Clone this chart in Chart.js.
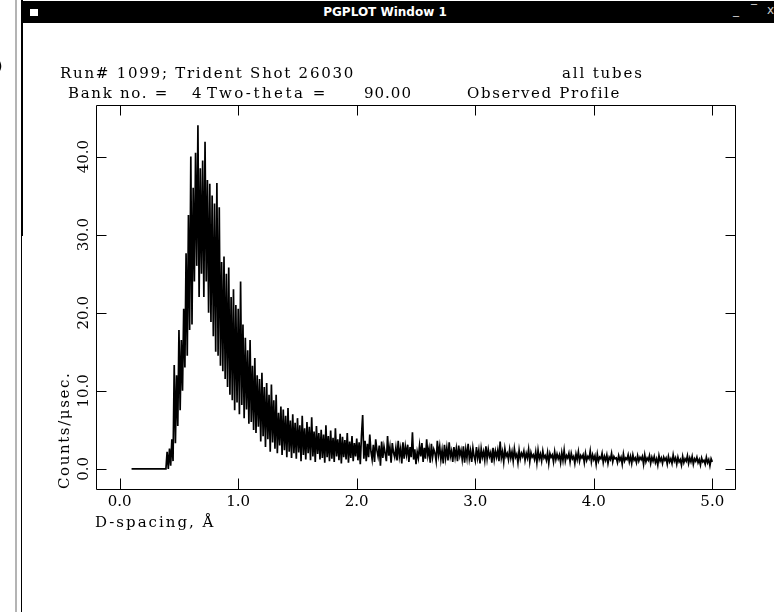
<!DOCTYPE html>
<html>
<head>
<meta charset="utf-8">
<title>PGPLOT Window 1</title>
<script src="https://cdn.jsdelivr.net/npm/chart.js@4.4.1/dist/chart.umd.min.js"></script>
<style>
  html, body { margin: 0; padding: 0; background: #fff; }
  #win { position: relative; width: 774px; height: 612px; overflow: hidden; background: #fff; }
  #myChart { position: absolute; left: 0; top: 0; }
  .edge-gray { position: absolute; left: 15px; top: 0; width: 2px; height: 612px; background: #b4b4b4; }
  .edge-black { position: absolute; left: 21px; top: 0; width: 2px; height: 236px; background: #000; }
  .edge-thin { position: absolute; left: 21px; top: 236px; width: 1px; height: 376px; background: #000; }
  .bar { position: absolute; left: 21px; top: 1px; width: 753px; height: 22px; background: #000; }
  .icon { position: absolute; left: 9px; top: 8px; width: 8px; height: 7px; background: #fff; }
  .bar-title { position: absolute; left: 0; width: 728px; top: 4px; text-align: center; color: #fff;
    font: bold 12px "DejaVu Sans", sans-serif; }
  .bar-btn { position: absolute; top: 2px; color: #ccc; font: 12px "DejaVu Sans", sans-serif; }
  .stray { position: absolute; left: -3px; top: 58px; font: 14px "DejaVu Sans", sans-serif; color: #000; }
  .txt { position: absolute; font: 15px "DejaVu Serif", serif; line-height: 15px; white-space: pre; color: #000; }
  .ytitle { transform-origin: 0 0; transform: rotate(-90deg); }
</style>
</head>
<body>
<div id="win">
  <canvas id="myChart" width="774" height="612"></canvas>
  <div class="stray">)</div>
  <div class="edge-gray"></div>
  <div class="edge-black"></div>
  <div class="edge-thin"></div>
  <div class="bar">
    <div class="icon"></div>
    <div class="bar-title">PGPLOT Window 1</div>
    <div class="bar-btn" style="left:712px">_</div>
    <div class="bar-btn" style="left:730px">‾</div>
    <div class="bar-btn" style="left:746px">x</div>
  </div>
  <div class="txt" style="left:60px; top:66px; letter-spacing:1.75px">Run# 1099; Trident Shot 26030</div>
  <div class="txt" style="left:562px; top:66px; letter-spacing:1.85px">all tubes</div>
  <div class="txt" style="left:68px; top:86px; letter-spacing:1.7px">Bank no. =</div>
  <div class="txt" style="left:192px; top:86px">4</div>
  <div class="txt" style="left:207px; top:86px; letter-spacing:2.5px">Two-theta =</div>
  <div class="txt" style="left:364px; top:86px; letter-spacing:1px">90.00</div>
  <div class="txt" style="left:467px; top:86px; letter-spacing:1.65px">Observed Profile</div>
  <div class="txt" style="left:95px; top:515px; letter-spacing:2px">D-spacing, Å</div>
  <div class="txt ytitle" style="left:57px; top:489px; letter-spacing:1.6px">Counts/μsec.</div>
</div>
<script>
// D-spacing grid of the observed profile (Angstrom)
const dStart = 0.10;
const dStep = 0.01;

// Counts/usec, one value per 0.01 A starting at 0.10
const counts = [
  0, 0, 0, 0, 0, 0, 0, 0, 0, 0,
  0, 0, 0, 0, 0, 0, 0, 0, 0, 0,
  0, 0, 0, 0, 0, 0, 0, 0, 0, 0,
  2.2, 0.0, 2.6, 0.4, 3.8, 1.0, 13.3, 3.3, 12.0, 5.5,
  17.8, 7.5, 16.5, 10.0, 20.5, 13.0, 27.6, 14.5, 32.5, 17.8,
  40.0, 18.5, 36.0, 24.0, 40.5, 26.0, 44.0, 22.0, 38.5, 25.0,
  39.5, 22.0, 41.9, 24.0, 37.0, 20.0, 36.5, 18.8, 35.0, 17.0,
  34.0, 15.0, 36.6, 14.5, 33.5, 13.2, 26.5, 12.5, 27.2, 11.5,
  25.0, 10.5, 25.8, 9.5, 22.0, 8.8, 23.0, 7.5, 21.0, 8.5,
  20.5, 7.0, 24.0, 8.2, 18.5, 6.5, 16.8, 7.6, 15.2, 5.8,
  16.5, 6.0, 13.2, 5.0, 14.2, 4.6, 12.0, 5.4, 11.5, 3.5,
  12.3, 4.2, 10.5, 2.8, 11.0, 3.8, 9.5, 2.2, 10.8, 3.4,
  8.8, 2.6, 9.5, 2.0, 7.2, 3.0, 8.0, 1.8, 7.6, 2.4,
  6.8, 1.5, 7.8, 2.2, 6.2, 1.4, 7.0, 2.0, 5.9, 1.3,
  6.5, 2.1, 5.6, 1.0, 6.8, 1.8, 5.2, 1.2, 6.0, 2.0,
  5.4, 1.1, 6.6, 1.6, 4.8, 0.9, 5.5, 1.9, 4.6, 1.2,
  5.0, 1.4, 4.4, 0.8, 5.6, 1.5, 4.2, 1.0, 4.9, 1.3,
  4.0, 0.9, 5.2, 1.6, 3.8, 1.1, 4.5, 0.7, 4.1, 1.5,
  3.7, 1.2, 4.6, 0.8, 3.5, 1.4, 4.2, 1.0, 3.3, 1.6,
  3.9, 1.1, 3.4, 0.6, 4.3, 6.9, 1.3, 3.6, 1.0, 3.2,
  1.5, 4.4, 2.2, 1.2, 3.1, 0.9, 3.8, 2.4, 1.6, 3.0,
  0.4, 3.5, 1.4, 2.9, 2.0, 1.0, 4.2, 1.7, 2.8, 0.8,
  3.3, 2.1, 1.5, 2.7, 1.1, 3.6, 1.6, 2.6, 0.7, 3.4,
  1.3, 2.9, 1.8, 3.1, 0.9, 2.8, 1.5, 4.7, 1.2, 2.5,
  0.6, 2.2, 1.4, 3.0, 1.6, 3.3, 0.9, 2.7, 1.3, 3.8,
  1.7, 2.6, 0.8, 3.2, 1.5, 2.5, 2.0, 1.0, 3.6, 1.8,
  2.9, 1.2, 2.4, 0.7, 3.1, 1.4, 2.7, 1.1, 3.4, 1.6,
  2.3, 0.9, 2.8, 1.5, 2.6, 1.0, 3.0, 1.7, 2.4, 1.2,
  2.9, 0.8, 2.5, 1.4, 3.2, 1.3, 2.3, 0.9, 2.7, 1.6,
  1.0, 2.8, 1.4, 2.4, 0.7, 2.6, 1.5, 2.2, 1.1, 2.9,
  1.3, 2.5, 1.6, 2.1, 0.8, 2.7, 1.2, 2.3, 1.5, 2.4,
  1.0, 3.5, 1.4, 2.2, 0.9, 2.6, 1.6, 2.0, 1.2, 2.5,
  1.4, 2.2, 1.0, 2.6, 1.5, 1.9, 0.8, 2.4, 1.3, 2.0,
  1.6, 2.3, 1.1, 2.0, 1.4, 2.5, 0.9, 2.1, 1.5, 1.8,
  1.2, 2.2, 0.8, 2.4, 1.3, 1.9, 1.0, 2.3, 1.4, 1.7,
  1.1, 2.1, 0.7, 2.0, 1.5, 1.8, 0.9, 2.2, 1.2, 1.9,
  1.3, 1.8, 0.8, 2.1, 1.1, 2.4, 1.0, 1.7, 1.4, 2.0,
  0.9, 2.0, 1.3, 1.6, 0.7, 1.9, 1.2, 2.2, 1.0, 1.7,
  1.4, 1.8, 0.8, 2.0, 1.1, 1.6, 1.3, 2.3, 0.9, 1.8,
  1.2, 1.7, 0.6, 1.9, 1.0, 1.5, 1.3, 2.0, 0.8, 1.6,
  1.1, 1.8, 0.7, 1.5, 1.2, 2.0, 0.9, 1.6, 1.3, 1.4,
  0.8, 1.7, 1.1, 1.5, 0.6, 1.9, 1.0, 1.4, 1.2, 1.8,
  0.9, 1.6, 0.7, 1.8, 1.1, 1.4, 0.8, 1.7, 1.0, 1.5,
  1.2, 1.6, 0.6, 1.8, 0.9, 1.4, 1.1, 1.7, 0.7, 1.5,
  1.0, 1.6, 0.8, 1.3, 0.5, 1.7, 1.0, 1.4, 0.7, 1.5,
  1.1, 1.4, 0.6, 1.6, 0.9, 1.3, 0.7, 1.8, 1.0, 1.4,
  0.6, 1.5, 0.9, 1.2, 0.5, 1.6, 0.8, 1.3, 1.0, 1.7,
  0.7, 1.4, 0.9, 1.6, 0.6, 1.3, 1.0, 1.5, 0.8, 1.2,
  0.5, 1.4, 0.9, 1.1, 0.6, 1.5, 0.8, 1.2, 0.4, 1.3,
  0.9
];

// axis limits and tick spacing as in the PGPLOT frame
const xMin = -0.2, xMax = 5.2, xStep = 1;
const yMin = -2.7, yMax = 46.6, yStep = 10;

const points = counts.map((c, i) => ({ x: +(dStart + i * dStep).toFixed(2), y: c }));

// PGPLOT style box: frame plus inward major ticks on all four sides
const pgBox = {
  id: 'pgBox',
  afterDatasetsDraw(chart) {
    const { ctx, chartArea: a, scales } = chart;
    const l = Math.round(a.left) + 0.5, r = Math.round(a.right) - 0.5;
    const t = Math.round(a.top) + 0.5, b = Math.round(a.bottom) - 0.5;
    ctx.save();
    ctx.strokeStyle = '#000';
    ctx.lineWidth = 1;
    ctx.beginPath();
    ctx.rect(l, t, r - l, b - t);
    scales.x.ticks.forEach((tk) => {
      const px = Math.round(scales.x.getPixelForValue(tk.value)) + 0.5;
      ctx.moveTo(px, b); ctx.lineTo(px, b - 11);
      ctx.moveTo(px, t); ctx.lineTo(px, t + 10);
    });
    scales.y.ticks.forEach((tk) => {
      const py = Math.round(scales.y.getPixelForValue(tk.value)) + 0.5;
      ctx.moveTo(l, py); ctx.lineTo(l + 10, py);
      ctx.moveTo(r, py); ctx.lineTo(r - 10, py);
    });
    ctx.stroke();
    ctx.restore();
  }
};

Chart.defaults.font.family = '"DejaVu Serif", serif';
Chart.defaults.font.size = 15;
Chart.defaults.color = '#000';

const ctx = document.getElementById('myChart').getContext('2d');
new Chart(ctx, {
  type: 'line',
  data: {
    datasets: [{
      label: 'Observed Profile',
      data: points,
      borderColor: '#000',
      borderWidth: 1.7,
      pointRadius: 0,
      tension: 0,
      fill: false,
    }],
  },
  options: {
    responsive: false,
    animation: false,
    layout: { padding: { left: 0, right: 38, top: 105, bottom: 0 } },
    plugins: { legend: { display: false }, tooltip: { enabled: false } },
    scales: {
      x: {
        type: 'linear',
        min: xMin,
        max: xMax,
        grid: { display: false, drawTicks: false },
        border: { display: false },
        ticks: {
          stepSize: xStep,
          includeBounds: false,
          padding: 3,
          maxRotation: 0,
          callback: (v) => v.toFixed(1),
        },
        afterFit: (scale) => { scale.height = 122; },
      },
      y: {
        min: yMin,
        max: yMax,
        grid: { display: false, drawTicks: false },
        border: { display: false },
        ticks: {
          stepSize: yStep,
          includeBounds: false,
          minRotation: 90,
          maxRotation: 90,
          crossAlign: 'center',
          padding: -5,
          callback: (v) => v.toFixed(1),
        },
        afterFit: (scale) => { scale.width = 96; },
      },
    },
  },
  plugins: [pgBox],
});
</script>
</body>
</html>
